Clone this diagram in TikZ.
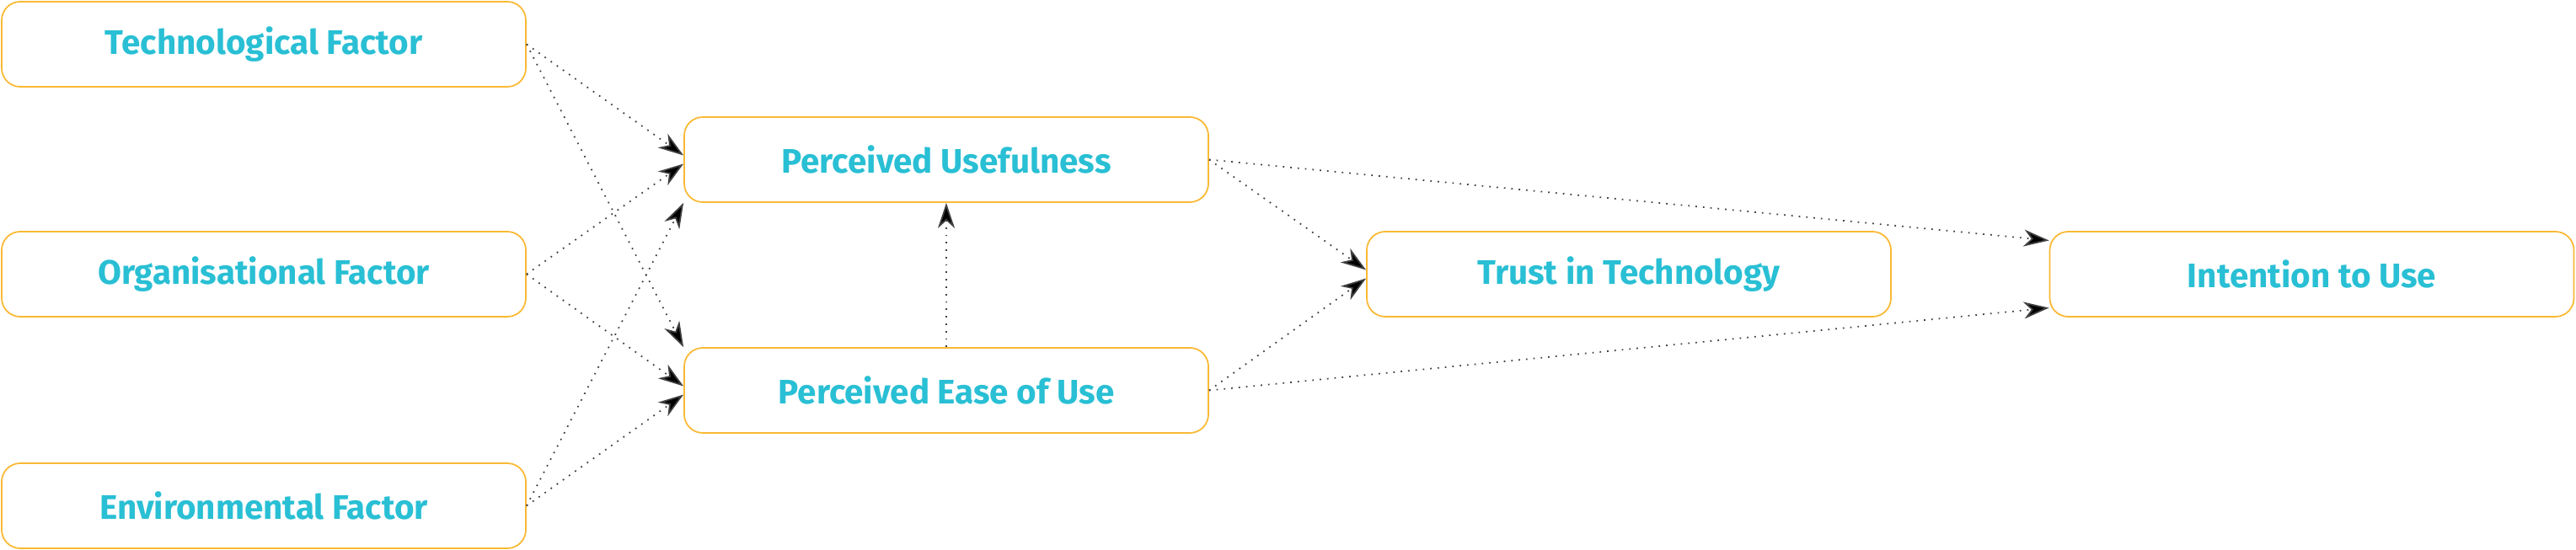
\documentclass[tikz,border=0pt]{standalone}
\usepackage{fontspec}
\setmainfont{Fira Sans}
\usetikzlibrary{arrows.meta}
\definecolor{boxorange}{HTML}{F9B934}
\definecolor{labelcyan}{HTML}{29BFD4}
\begin{document}
\begin{tikzpicture}[
	box/.style={draw=boxorange, line width=0.5pt, rounded corners=0.22cm, minimum width=6.22cm, minimum height=1.01cm, inner sep=0pt, text=labelcyan, font=\fontsize{11.5}{14}\selectfont\bfseries},
	link/.style={draw=black!75, dotted, line width=0.5pt, -{Stealth[length=0.3cm, width=0.2cm, inset=0.09cm, fill=black]}}
]
	%\draw[help lines] (0,0) grid (30.57,-6.53);
	\useasboundingbox (0,0) rectangle (30.57,-6.53);
	\node[box] (tech) at (3.13,-0.525) {Technological Factor};
	\node[box] (org) at (3.13,-3.255) {Organisational Factor};
	\node[box] (env) at (3.13,-6.005) {Environmental Factor};
	\node[box] (pu) at (11.23,-1.895) {Perceived Usefulness};
	\node[box] (peou) at (11.23,-4.635) {Perceived Ease of Use};
	\node[box] (trust) at (19.33,-3.255) {Trust in Technology};
	\node[box] (intent) at (27.435,-3.255) {Intention to Use};
	\draw[link] (tech.east) -- ([yshift=0.05cm]pu.west);
	\draw[link] (tech.east) -- (peou.north west);
	\draw[link] (org.east) -- ([yshift=-0.05cm]pu.west);
	\draw[link] (org.east) -- ([yshift=0.05cm]peou.west);
	\draw[link] (env.east) -- (pu.south west);
	\draw[link] (env.east) -- ([yshift=-0.05cm]peou.west);
	\draw[link] (peou.north) -- (pu.south);
	\draw[link] (pu.east) -- ([yshift=0.05cm]trust.west);
	\draw[link] (peou.east) -- ([yshift=-0.05cm]trust.west);
	\draw[link] (pu.east) -- ([yshift=0.4cm]intent.west);
	\draw[link] (peou.east) -- ([yshift=-0.4cm]intent.west);
\end{tikzpicture}
\end{document}
